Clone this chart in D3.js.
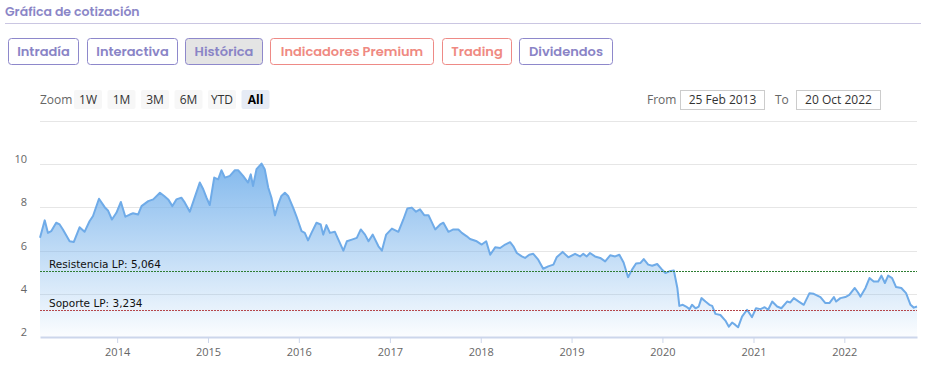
<!DOCTYPE html>
<html>
<head>
<meta charset="utf-8">
<script src="https://cdn.jsdelivr.net/npm/d3@7"></script>
<style>
  body { margin: 0; background: #fff; }
  svg { display: block; }
</style>
</head>
<body>
<div id="chart"></div>
<script>
// Cotización
const fechas = [
  "2013-02-25","2013-03-16","2013-03-29","2013-04-11","2013-05-01","2013-05-15","2013-05-28","2013-06-24",
  "2013-07-11","2013-08-03","2013-08-23","2013-09-12","2013-09-26","2013-10-20","2013-11-12","2013-11-25",
  "2013-12-11","2013-12-29","2014-01-16","2014-02-03","2014-02-21","2014-03-06","2014-03-26","2014-04-09",
  "2014-05-06","2014-05-26","2014-06-22","2014-07-09","2014-07-25","2014-08-11","2014-08-27","2014-09-16",
  "2014-09-30","2014-10-20","2014-11-06","2014-11-29","2014-12-13","2014-12-26","2015-01-08","2015-01-26",
  "2015-02-11","2015-02-24","2015-03-10","2015-03-30","2015-04-19","2015-05-02","2015-05-22","2015-06-11",
  "2015-06-22","2015-07-01","2015-07-15","2015-08-04","2015-08-17","2015-08-31","2015-09-13","2015-09-27",
  "2015-10-10","2015-10-23","2015-11-06","2015-11-19","2015-12-09","2015-12-22","2016-01-12","2016-01-25",
  "2016-02-07","2016-02-21","2016-03-12","2016-03-29","2016-04-08","2016-04-21","2016-05-05","2016-05-25",
  "2016-06-08","2016-06-28","2016-07-12","2016-08-01","2016-08-21","2016-09-06","2016-09-23","2016-10-07",
  "2016-10-24","2016-11-16","2016-11-30","2016-12-17","2017-01-09","2017-02-04","2017-02-24","2017-03-12",
  "2017-03-30","2017-04-16","2017-05-02","2017-05-19","2017-06-05","2017-07-02","2017-07-22","2017-08-04",
  "2017-08-24","2017-09-13","2017-10-03","2017-10-17","2017-11-06","2017-11-19","2017-12-16","2018-01-05",
  "2018-01-23","2018-02-08","2018-02-28","2018-03-20","2018-04-09","2018-04-29","2018-05-12","2018-05-26",
  "2018-06-15","2018-06-28","2018-07-15","2018-07-31","2018-08-20","2018-09-09","2018-09-29","2018-10-20",
  "2018-11-02","2018-11-26","2018-12-19","2019-01-15","2019-02-04","2019-02-17","2019-03-03","2019-03-16",
  "2019-04-05","2019-04-26","2019-05-16","2019-06-05","2019-06-25","2019-07-12","2019-07-29","2019-08-16",
  "2019-09-01","2019-09-17","2019-10-05","2019-10-18","2019-11-05","2019-11-21","2019-12-11","2019-12-28",
  "2020-01-13","2020-01-29","2020-02-16","2020-03-01","2020-03-09","2020-03-23","2020-04-05","2020-04-19",
  "2020-04-29","2020-05-13","2020-05-26","2020-06-06","2020-06-22","2020-07-08","2020-07-19","2020-08-01",
  "2020-08-21","2020-09-10","2020-09-24","2020-10-07","2020-10-20","2020-10-31","2020-11-16","2020-12-06",
  "2020-12-26","2021-01-11","2021-01-29","2021-02-15","2021-03-01","2021-03-17","2021-04-06","2021-04-23",
  "2021-05-16","2021-05-29","2021-06-12","2021-07-02","2021-07-22","2021-08-14","2021-08-31","2021-09-27",
  "2021-10-17","2021-11-02","2021-11-20","2021-11-29","2021-12-16","2022-01-05","2022-01-21","2022-02-12",
  "2022-02-25","2022-03-07","2022-03-27","2022-04-12","2022-04-29","2022-05-17","2022-05-30","2022-06-13",
  "2022-06-26","2022-07-12","2022-07-28","2022-08-18","2022-09-06","2022-09-24","2022-10-07","2022-10-20"
];
const precios = [
  6.59,7.40,6.82,6.90,7.29,7.21,6.98,6.43,
  6.40,7.08,6.87,7.36,7.60,8.40,8.01,7.86,
  7.44,7.75,8.25,7.57,7.67,7.73,7.67,8.06,
  8.29,8.37,8.68,8.53,8.37,8.06,8.37,8.45,
  8.22,7.80,8.37,9.15,8.84,8.45,8.11,9.38,
  9.30,9.72,9.38,9.46,9.72,9.72,9.46,9.15,
  9.53,8.99,9.77,10.03,9.77,8.92,8.45,7.63,
  8.14,8.53,8.68,8.53,7.99,7.60,6.90,6.82,
  6.47,6.82,7.29,7.21,6.74,7.18,6.82,6.87,
  6.51,6.00,6.43,6.51,6.59,6.98,6.74,6.43,
  6.74,6.20,6.00,6.74,7.02,6.87,7.44,7.95,
  7.99,7.80,7.91,7.64,7.64,6.98,7.21,7.29,
  6.87,6.98,6.98,6.82,6.66,6.54,6.43,6.28,
  6.43,5.81,6.15,6.12,6.28,6.39,6.20,5.89,
  5.73,5.66,5.81,5.85,5.58,5.16,5.27,5.35,
  5.69,5.94,5.69,5.85,5.73,5.85,5.73,5.89,
  5.73,5.66,5.50,5.78,5.73,5.81,5.45,4.77,
  5.12,5.40,5.43,5.61,5.35,5.30,5.38,5.15,
  4.96,5.04,5.08,4.27,3.44,3.49,3.41,3.29,
  3.49,3.33,3.41,3.80,3.64,3.49,3.44,3.07,
  3.02,2.76,2.48,2.67,2.56,2.45,2.94,3.26,
  2.92,3.33,3.29,3.38,3.26,3.64,3.41,3.33,
  3.64,3.60,3.80,3.64,3.49,4.03,4.00,3.85,
  3.57,3.57,3.85,3.64,3.80,3.85,3.95,4.27,
  4.06,3.87,4.27,4.73,4.57,4.57,4.84,4.50,
  4.84,4.73,4.31,4.27,4.03,3.49,3.36,3.41
];
const yTicks = [2, 4, 6, 8, 10, 12];
const xTickYears = ["2014", "2015", "2016", "2017", "2018", "2019", "2020", "2021", "2022"];
const niveles = [
  { nombre: "Resistencia LP: 5,064", valor: 5.064, color: "#2e7d32" },
  { nombre: "Soporte LP: 3,234", valor: 3.234, color: "#b5464b" }
];
const pestanas = [
  { texto: "Intradía", tipo: "morado" },
  { texto: "Interactiva", tipo: "morado" },
  { texto: "Histórica", tipo: "activo" },
  { texto: "Indicadores Premium", tipo: "rojo" },
  { texto: "Trading", tipo: "rojo" },
  { texto: "Dividendos", tipo: "morado" }
];
const zoomBotones = ["1W", "1M", "3M", "6M", "YTD", "All"];
const rangoDesde = "25 Feb 2013";
const rangoHasta = "20 Oct 2022";

const width = 932, height = 367;
const parse = d3.timeParse("%Y-%m-%d");
const data = fechas.map((f, i) => ({ date: parse(f), value: precios[i] }));

const svg = d3.select("#chart").append("svg")
  .attr("width", width)
  .attr("height", height);

// --- Cabecera ---
const fontHead = "Poppins, Inter, 'Noto Sans', sans-serif";
svg.append("text")
  .attr("x", 5).attr("y", 16)
  .attr("font-family", fontHead).attr("font-weight", 600).attr("font-size", 12.5)
  .attr("fill", "#8b86c7")
  .text("Gráfica de cotización");
svg.append("line")
  .attr("x1", 5).attr("x2", 921).attr("y1", 23.5).attr("y2", 23.5)
  .attr("stroke", "#cac6e2").attr("stroke-width", 1);

const tabX = [8, 87, 185, 270, 442, 519];
const tabW = [70, 90, 77, 163, 69, 93];
const tabs = svg.append("g").selectAll("g")
  .data(pestanas)
  .join("g")
  .attr("transform", (d, i) => `translate(${tabX[i]},38)`);
tabs.append("rect")
  .attr("x", 0.5).attr("y", 0.5)
  .attr("width", (d, i) => tabW[i]).attr("height", 26)
  .attr("rx", 3)
  .attr("fill", d => d.tipo === "activo" ? "#e4e4e4" : "#fff")
  .attr("stroke", d => d.tipo === "rojo" ? "#ee8a86" : "#8e88cb");
tabs.append("text")
  .attr("x", (d, i) => tabW[i] / 2 + 0.5).attr("y", 18)
  .attr("text-anchor", "middle")
  .attr("font-family", fontHead).attr("font-weight", 600).attr("font-size", 13)
  .attr("fill", d => d.tipo === "rojo" ? "#ef8a82" : "#8a84c6")
  .text(d => d.texto);

// --- Selector de rango ---
const fontHC = "'Open Sans', 'Liberation Sans', sans-serif";
svg.append("text")
  .attr("x", 40).attr("y", 104)
  .attr("font-family", fontHC).attr("font-size", 12).attr("fill", "#666")
  .text("Zoom");
const zb = svg.append("g").selectAll("g")
  .data(zoomBotones)
  .join("g")
  .attr("transform", (d, i) => `translate(${74 + i * 33.5},90)`);
zb.append("rect")
  .attr("width", 28).attr("height", 19).attr("rx", 2)
  .attr("fill", d => d === "All" ? "#e6ebf5" : "#f7f7f7");
zb.append("text")
  .attr("x", 14).attr("y", 14)
  .attr("text-anchor", "middle")
  .attr("font-family", fontHC).attr("font-size", 12)
  .attr("font-weight", d => d === "All" ? 700 : 400)
  .attr("fill", d => d === "All" ? "#000" : "#333")
  .text(d => d);

const rangos = [
  { etiqueta: "From", tx: 647, bx: 680, valor: rangoDesde },
  { etiqueta: "To", tx: 775, bx: 796, valor: rangoHasta }
];
const rg = svg.append("g").selectAll("g").data(rangos).join("g");
rg.append("text")
  .attr("x", d => d.tx).attr("y", 104)
  .attr("font-family", fontHC).attr("font-size", 12).attr("fill", "#666")
  .text(d => d.etiqueta);
rg.append("rect")
  .attr("x", d => d.bx + 0.5).attr("y", 90.5)
  .attr("width", 84).attr("height", 19)
  .attr("fill", "#fff").attr("stroke", "#cccccc");
rg.append("text")
  .attr("x", d => d.bx + 42.5).attr("y", 104)
  .attr("text-anchor", "middle")
  .attr("font-family", fontHC).attr("font-size", 12).attr("fill", "#333")
  .text(d => d.valor);

// --- Gráfico ---
const x = d3.scaleTime()
  .domain([parse("2013-02-25"), parse("2022-10-20")])
  .range([40, 917]);
const y = d3.scaleLinear()
  .domain([2, 12])
  .range([337, 121]);

// rejilla
svg.append("g")
  .selectAll("line")
  .data(yTicks.filter(v => v > 2))
  .join("line")
  .attr("x1", 40).attr("x2", 917)
  .attr("y1", d => Math.round(y(d)) + 0.5).attr("y2", d => Math.round(y(d)) + 0.5)
  .attr("stroke", "#e6e6e6");

svg.append("g")
  .selectAll("text")
  .data(yTicks.filter(v => v < 12))
  .join("text")
  .attr("x", 27).attr("y", d => y(d) - 1)
  .attr("text-anchor", "end")
  .attr("font-family", fontHC).attr("font-size", 11).attr("fill", "#666")
  .text(d => d);

// área
const defs = svg.append("defs");
const grad = defs.append("linearGradient")
  .attr("id", "fillGrad")
  .attr("x1", 0).attr("y1", 0).attr("x2", 0).attr("y2", 1);
grad.append("stop").attr("offset", "0%").attr("stop-color", "#7cb5ec").attr("stop-opacity", 0.95);
grad.append("stop").attr("offset", "100%").attr("stop-color", "#7cb5ec").attr("stop-opacity", 0.03);

const area = d3.area()
  .x(d => x(d.date))
  .y0(y(2))
  .y1(d => y(d.value));
const line = d3.line()
  .x(d => x(d.date))
  .y(d => y(d.value));

svg.append("path")
  .datum(data)
  .attr("d", area)
  .attr("fill", "url(#fillGrad)");
svg.append("path")
  .datum(data)
  .attr("d", line)
  .attr("fill", "none")
  .attr("stroke", "#6fabe8")
  .attr("stroke-width", 2)
  .attr("stroke-linejoin", "round");

// soporte y resistencia
const nv = svg.append("g").selectAll("g").data(niveles).join("g");
nv.append("line")
  .attr("x1", 40).attr("x2", 917)
  .attr("y1", d => Math.round(y(d.valor)) + 0.5).attr("y2", d => Math.round(y(d.valor)) + 0.5)
  .attr("stroke", d => d.color)
  .attr("stroke-dasharray", "2,1");
nv.append("text")
  .attr("x", 49).attr("y", d => y(d.valor) - 3)
  .attr("font-family", "'DejaVu Sans', Verdana, sans-serif").attr("font-size", 10.5)
  .attr("fill", "#111")
  .text(d => d.nombre);

// eje x
const xAxis = svg.append("g")
  .attr("transform", "translate(0,337)")
  .call(d3.axisBottom(x)
    .tickValues(xTickYears.map(a => d3.timeParse("%Y")(a)))
    .tickFormat(d3.timeFormat("%Y"))
    .tickSizeInner(6).tickSizeOuter(0).tickPadding(5));
xAxis.select(".domain").attr("stroke", "#ccd6eb").attr("stroke-width", 2);
xAxis.selectAll(".tick line").attr("stroke", "#ccd6eb");
xAxis.selectAll(".tick text")
  .attr("font-family", fontHC).attr("font-size", 11).attr("fill", "#666");
</script>
</body>
</html>
